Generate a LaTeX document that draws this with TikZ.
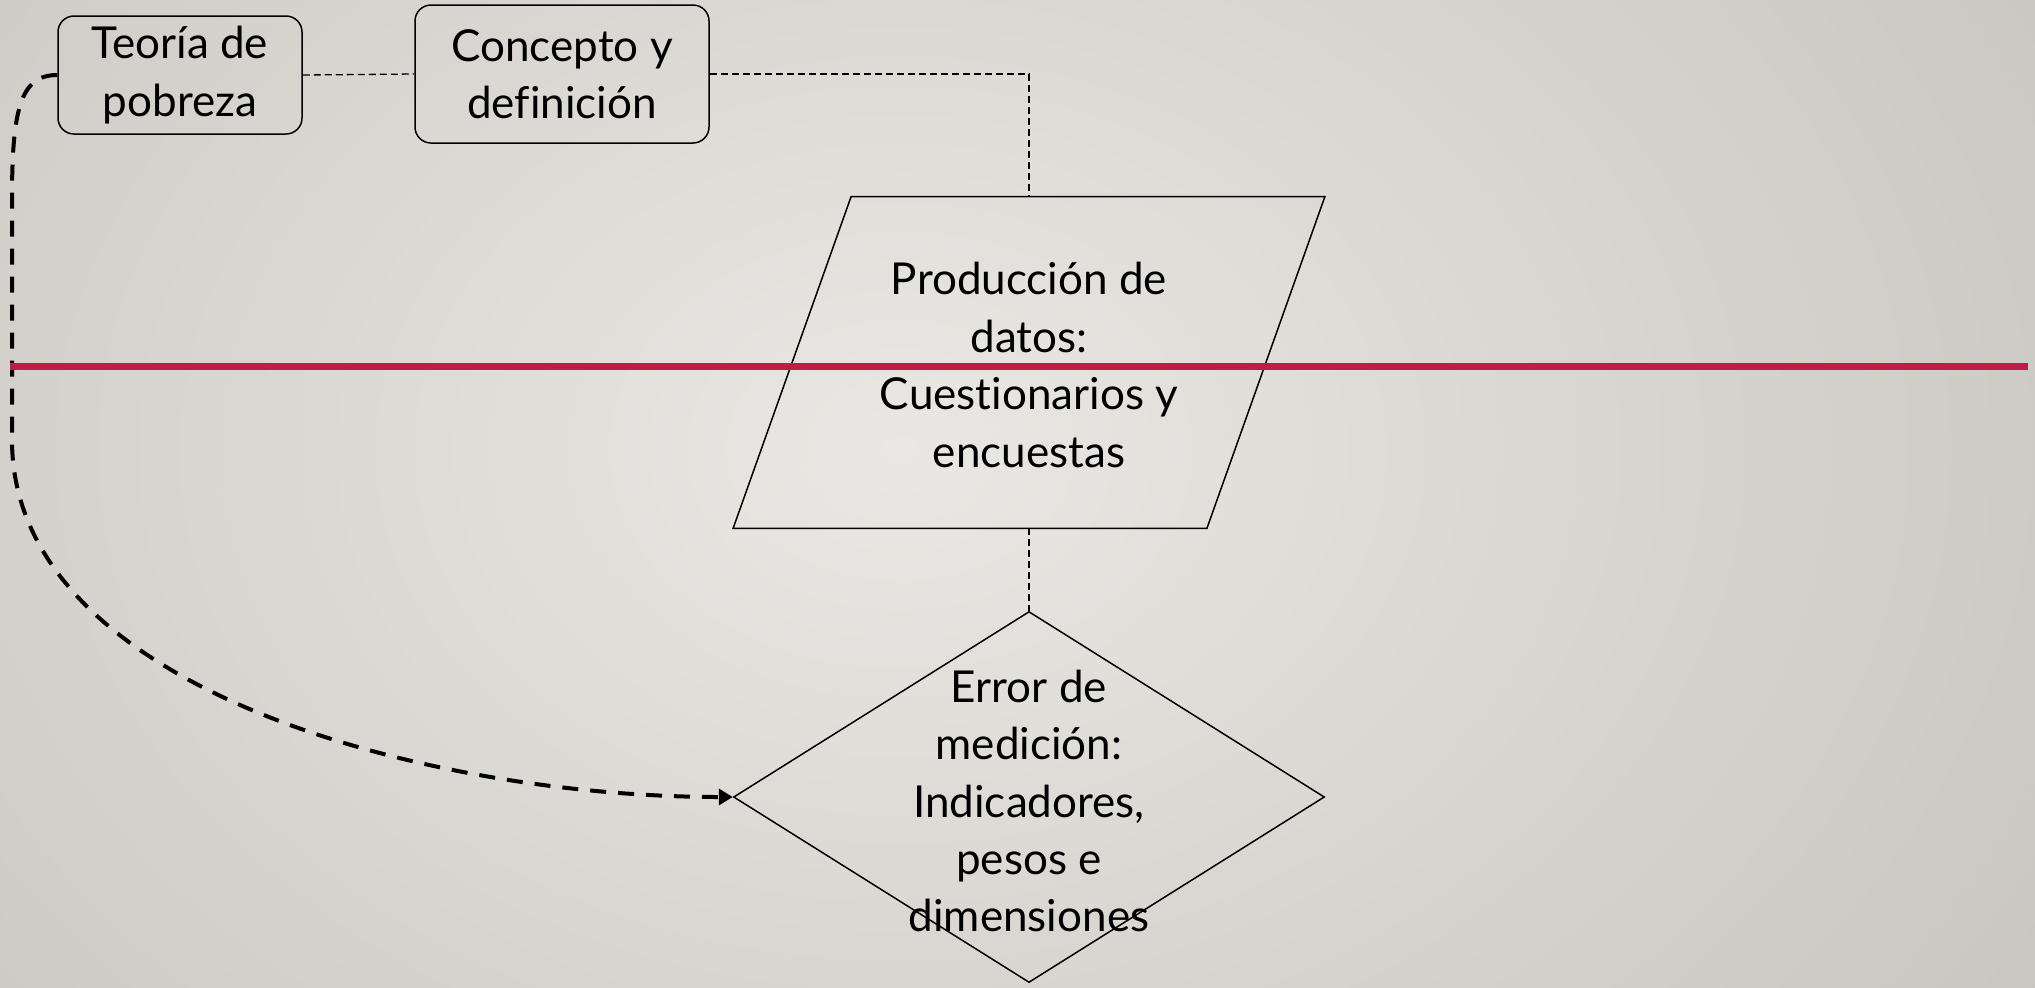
\documentclass[tikz,border=0pt]{standalone}
\usepackage{fontspec}
\setmainfont{Lato}[Ligatures=NoCommon]
\usetikzlibrary{shapes.geometric,arrows.meta}
\definecolor{bgin}{RGB}{234,232,228}
\definecolor{bgout}{RGB}{200,196,190}
\definecolor{rule}{RGB}{187,31,69}
\begin{document}
\begin{tikzpicture}[x=0.5pt,y=-0.5pt,
  txt/.style={align=center,font=\fontsize{22}{28.7}\selectfont,inner sep=0pt},
  caja/.style={draw,line width=0.75pt,rounded corners=8pt,txt},
  thin link/.style={line width=0.65pt,dash pattern=on 3.5pt off 2pt},
  thick link/.style={line width=2pt,dash pattern=on 8pt off 6pt,-{Triangle[length=7pt,width=8pt]}}]
 \useasboundingbox (0,0) rectangle (2035,987);
 \begin{scope}
  \clip (0,0) rectangle (2035,987);
  \shade[inner color=bgin,outer color=bgout](-500,-600) rectangle (2300,1500);
 \end{scope}
 \node[caja,minimum width=122pt,minimum height=59pt](teoria) at (180,75) {Teoría de\\pobreza};
 \node[caja,minimum width=147pt,minimum height=69pt](concepto) at (562,74) {Concepto y\\definición};
 % parallelogram drawn on the box of an empty node
 \node[minimum width=295.5pt,minimum height=165.5pt,inner sep=0pt](datos) at (1029,362.5) {};
 \draw[line width=0.75pt]([xshift=59pt]datos.north west)--(datos.north east)
   --([xshift=-59pt]datos.south east)--(datos.south west)--cycle;
 \node[txt](datostxt) at (1029,365) {Producción de\\datos:\\Cuestionarios y\\encuestas};
 \node[draw,line width=0.75pt,diamond,minimum width=295.5pt,minimum height=185.5pt,inner sep=0pt](error) at (1029,797) {};
 \node[txt](errortxt) at (1029,801) {Error de\\medición:\\Indicadores,\\pesos e\\dimensiones};
 \draw[thin link](teoria.east)--(concepto.west);
 \draw[thin link](concepto.east)-|(datos.north);
 \draw[thin link](datos.south)--(error.north);
 \draw[thick link](teoria.west) .. controls (20,75) and (12,110) .. (12,200) -- (12,440)
   .. controls (12,690) and (430,797) .. (error.west);
 \draw[rule,line width=3.5pt](10,366)--(2028,366);
\end{tikzpicture}
\end{document}
